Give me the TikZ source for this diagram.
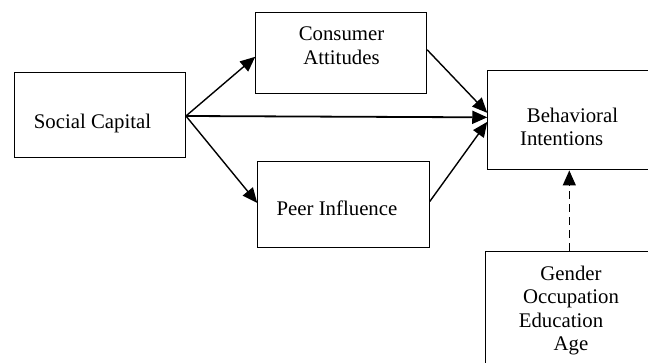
\documentclass[tikz,border=0pt]{standalone}
\usepackage{fontspec}
\setmainfont{Liberation Serif}
\usetikzlibrary{arrows.meta,positioning,calc}

\tikzset{
  box/.style={draw, line width=0.9pt, inner sep=0pt, minimum width=171pt},
  txt/.style={font=\fontsize{20.8}{23.6}\selectfont, inner sep=0pt, align=center},
  arr/.style={line width=1.4pt, -{Triangle[length=15pt,width=13pt]}}
}

\begin{document}
\begin{tikzpicture}[x=1pt, y=-1pt]
  \useasboundingbox (0,0) rectangle (648,363);
  \clip (0,0) rectangle (648,363);
  % Boxes
  \node[box, minimum height=85pt] (sc) at (100,114.8) {};
  \node[box, minimum height=81pt] (ca) at (341.2,52.8) {};
  \node[box, minimum height=85.6pt, minimum width=171.6pt] (pi) at (343.5,204.5) {};
  \node[box, minimum height=98.3pt, minimum width=172pt] (bi) at (573.7,119.85) {};
  \node[box, minimum height=120pt, minimum width=172pt] (demo) at (571.7,311) {};
  % Texts
  \node[txt] (sctext) at (92.5,123.5) {Social Capital};
  \node[txt] (catext) at (341.5,45.5) {Consumer\\Attitudes};
  \node[txt] (pitext) at (337,207.9) {Peer Influence};
  \node[txt] (bitext) at (572.5,127) {Behavioral\\Intentions\kern21.6pt};
  \node[txt] (demotext) at (571,310.6) {Gender\\Occupation\\Education\kern20pt\\Age};
  % Paths
  \coordinate (hub) at ($(sc.east)+(0,1.2)$);
  \draw[arr] (hub) -- ($(ca.west)+(0,4)$);
  \draw[arr] (hub) -- ($(pi.west)+(0,-1.5)$);
  \draw[arr, line width=1.8pt] (hub) -- ($(bi.west)+(0,-2.5)$);
  \draw[arr] ($(ca.east)+(0,-3)$) -- ($(bi.west)+(0,-7)$);
  \draw[arr] ($(pi.east)+(0,-3)$) -- ($(bi.west)+(0,2)$);
  % Controls
  \coordinate (dtop) at ($(demo.north)+(-2.4,0)$);
  \draw[arr, line width=1.3pt, dash pattern=on 8pt off 5pt] (dtop) -- ($(dtop |- bi.south)+(0,1)$);
\end{tikzpicture}
\end{document}
